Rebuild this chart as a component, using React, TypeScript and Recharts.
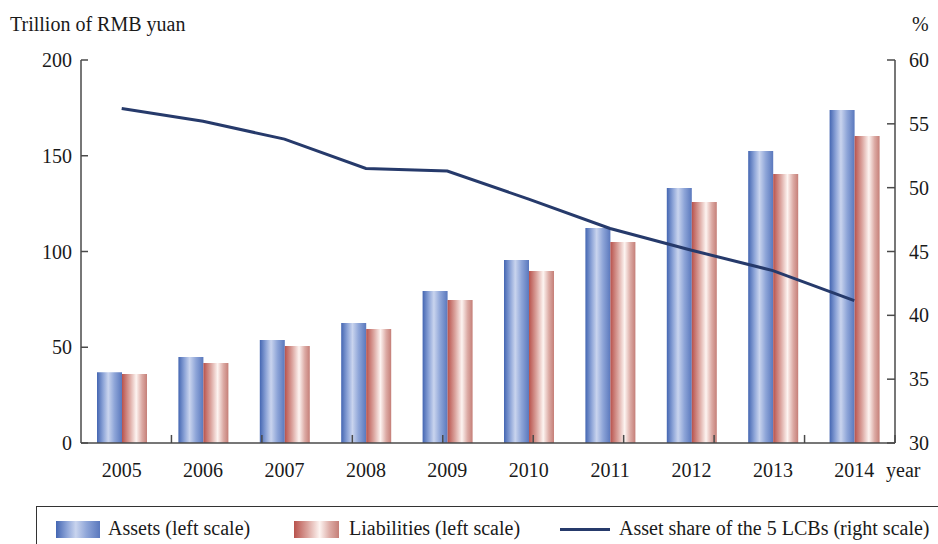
import React from 'react';
import { ComposedChart, Bar, Line, XAxis, YAxis, ReferenceLine } from 'recharts';

const years = ['2005', '2006', '2007', '2008', '2009', '2010', '2011', '2012', '2013', '2014'];
const assets = [36.9, 44.9, 53.8, 62.7, 79.4, 95.6, 112.3, 133.2, 152.5, 173.9];
const liabilities = [36.0, 41.8, 50.7, 59.5, 74.7, 89.8, 105.0, 125.8, 140.5, 160.3];
const share = [56.2, 55.2, 53.8, 51.5, 51.3, 49.1, 46.8, 45.1, 43.5, 41.15];

const leftTicks = [0, 50, 100, 150, 200];
const rightTicks = [30, 35, 40, 45, 50, 55, 60];
const boundaries = [1, 2, 3, 4, 5, 6, 7, 8, 9];

const data = years.map((y, i) => ({
  year: y,
  assets: assets[i],
  liabilities: liabilities[i],
  share: share[i],
}));

const FONT = 'Liberation Serif, DejaVu Serif, serif';
const AXIS = '#4a4a4a';
const TEXT = '#1a1a1a';
const LINE = '#263a6b';

const blueGrad = 'linear-gradient(to right, #4466b2 0%, #8ea5d8 25%, #c9d4ee 45%, #8ea5d8 70%, #5a78bd 100%)';
const redGrad = 'linear-gradient(to right, #b8524c 0%, #dba49e 30%, #fdf4f1 57%, #dcaaa4 80%, #c57f78 100%)';

const Legend = () => (
  <div
    style={{
      position: 'absolute',
      left: 36,
      top: 506,
      width: 920,
      height: 60,
      border: '1px solid #333',
      boxSizing: 'border-box',
      fontFamily: FONT,
      fontSize: 20,
      color: TEXT,
    }}
  >
    <div style={{ position: 'absolute', left: 19, top: 14, width: 44, height: 17, background: blueGrad }} />
    <div style={{ position: 'absolute', left: 71, top: 9, whiteSpace: 'nowrap', lineHeight: '24px' }}>Assets (left scale)</div>
    <div style={{ position: 'absolute', left: 257, top: 14, width: 45, height: 17, background: redGrad }} />
    <div style={{ position: 'absolute', left: 312, top: 9, whiteSpace: 'nowrap', lineHeight: '24px' }}>Liabilities (left scale)</div>
    <div style={{ position: 'absolute', left: 523, top: 21, width: 50, height: 3, background: LINE }} />
    <div style={{ position: 'absolute', left: 582, top: 9, whiteSpace: 'nowrap', lineHeight: '24px' }}>Asset share of the 5 LCBs (right scale)</div>
  </div>
);

const tickStyle = { fontSize: 20, fill: TEXT, fontFamily: FONT };

export default function App() {
  return (
    <div style={{ position: 'absolute', left: 0, top: 0, width: 938, height: 544, background: '#fff', overflow: 'hidden' }}>
      <ComposedChart
        width={938}
        height={544}
        data={data}
        margin={{ top: 60, right: 0, bottom: 41, left: 0 }}
        barGap={0}
      >
        <defs>
          <linearGradient id="blueBar" x1="0" y1="0" x2="1" y2="0">
            <stop offset="0%" stopColor="#4466b2" />
            <stop offset="25%" stopColor="#8ea5d8" />
            <stop offset="45%" stopColor="#c9d4ee" />
            <stop offset="70%" stopColor="#8ea5d8" />
            <stop offset="100%" stopColor="#5a78bd" />
          </linearGradient>
          <linearGradient id="redBar" x1="0" y1="0" x2="1" y2="0">
            <stop offset="0%" stopColor="#b8524c" />
            <stop offset="30%" stopColor="#dba49e" />
            <stop offset="57%" stopColor="#fdf4f1" />
            <stop offset="80%" stopColor="#dcaaa4" />
            <stop offset="100%" stopColor="#c57f78" />
          </linearGradient>
        </defs>
        <XAxis
          xAxisId="cat"
          dataKey="year"
          height={60}
          axisLine={{ stroke: AXIS, strokeWidth: 1.5 }}
          tickLine={false}
          tickSize={0}
          tickMargin={20}
          interval={0}
          tick={tickStyle}
          label={(props: any) => {
            const vb = props.viewBox || {};
            return (
              <text x={vb.x + vb.width - 9} y={vb.y + 34} fontSize={20} fontFamily={FONT} fill={TEXT}>
                year
              </text>
            );
          }}
        />
        <XAxis xAxisId="grid" type="number" domain={[0, 10]} allowDataOverflow hide />
        <YAxis
          yAxisId="left"
          width={81}
          domain={[0, 200]}
          ticks={leftTicks}
          interval={0}
          tickSize={-7}
          tickMargin={16}
          tick={tickStyle}
          tickLine={{ stroke: AXIS, strokeWidth: 1.5 }}
          axisLine={{ stroke: AXIS, strokeWidth: 1.5 }}
          label={(props: any) => {
            const vb = props.viewBox || {};
            return (
              <text x={vb.x + 10} y={vb.y - 29} fontSize={20} fontFamily={FONT} fill={TEXT}>
                Trillion of RMB yuan
              </text>
            );
          }}
        />
        <YAxis
          yAxisId="right"
          orientation="right"
          width={43}
          domain={[30, 60]}
          ticks={rightTicks}
          interval={0}
          tickSize={-8}
          tickMargin={22}
          tick={tickStyle}
          tickLine={{ stroke: AXIS, strokeWidth: 1.5 }}
          axisLine={{ stroke: AXIS, strokeWidth: 1.5 }}
          label={(props: any) => {
            const vb = props.viewBox || {};
            return (
              <text x={vb.x + 17} y={vb.y - 29} fontSize={20} fontFamily={FONT} fill={TEXT}>
                %
              </text>
            );
          }}
        />
        <Bar xAxisId="cat" yAxisId="left" dataKey="assets" fill="url(#blueBar)" barSize={25} isAnimationActive={false} />
        <Bar xAxisId="cat" yAxisId="left" dataKey="liabilities" fill="url(#redBar)" barSize={25} isAnimationActive={false} />
        <Line
          xAxisId="cat"
          yAxisId="right"
          dataKey="share"
          stroke={LINE}
          strokeWidth={3}
          dot={false}
          activeDot={false}
          type="linear"
          isAnimationActive={false}
        />
        {boundaries.map((b) => (
          <ReferenceLine
            key={b}
            xAxisId="grid"
            yAxisId="left"
            segment={[{ x: b, y: 0 }, { x: b, y: 4.2 }]}
            stroke={AXIS}
            strokeWidth={1.5}
            ifOverflow="visible"
          />
        ))}
      </ComposedChart>
      <Legend />
    </div>
  );
}
